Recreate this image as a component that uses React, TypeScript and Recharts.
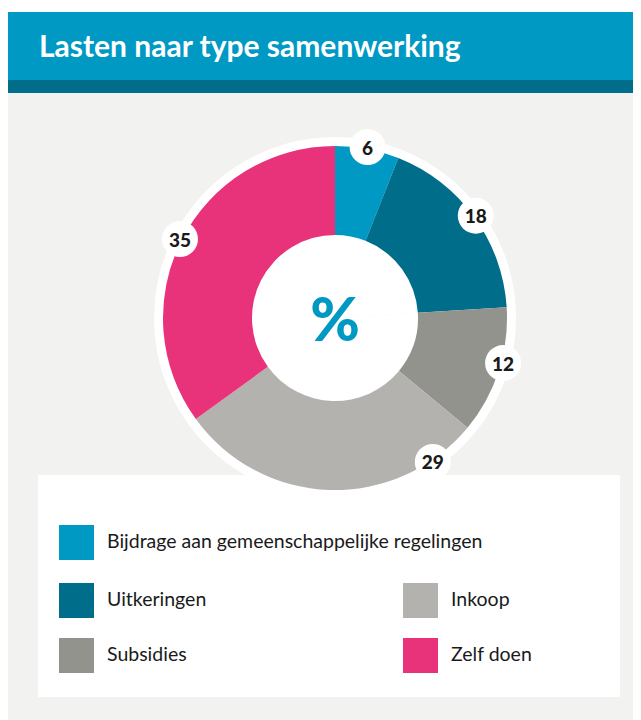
import { PieChart, Pie, Cell } from 'recharts';

const CATEGORIES = ['Bijdrage aan gemeenschappelijke regelingen', 'Uitkeringen', 'Subsidies', 'Inkoop', 'Zelf doen'];
const VALUES = [6, 18, 12, 29, 35];
const COLORS = ['#0099c4', '#006d8a', '#93938d', '#b3b2ae', '#e8327a'];

// legend layout: left column then right column
const LEGEND_LEFT = [0, 1, 2];
const LEGEND_RIGHT = [3, 4];

const FONT = 'Lato, "Open Sans", sans-serif';
const RAD = Math.PI / 180;

const data = CATEGORIES.map((name, i) => ({ name, value: VALUES[i] }));

// small nudges so the bubbles sit where the original puts them
const LABEL_NUDGE: Record<string, number> = { Inkoop: 36, Subsidies: 3 };

function renderLabel(props: any) {
  const { cx, cy, midAngle, outerRadius, value, name } = props;
  const a = midAngle + (LABEL_NUDGE[name] || 0);
  const r = outerRadius + 2;
  const x = cx + r * Math.cos(-a * RAD);
  const y = cy + r * Math.sin(-a * RAD);
  return (
    <g>
      <circle cx={x} cy={y} r={18} fill="#ffffff" />
      <text
        x={x}
        y={y}
        textAnchor="middle"
        dominantBaseline="central"
        fontFamily={FONT}
        fontWeight={900}
        fontSize={19}
        fill="#1a1a1a"
      >
        {value}
      </text>
    </g>
  );
}

function LegendItem({ i, left, top }: { i: number; left: number; top: number }) {
  return (
    <div style={{ position: 'absolute', left, top, display: 'flex', alignItems: 'center' }}>
      <div style={{ width: 35, height: 35, backgroundColor: COLORS[i] }} />
      <span
        style={{
          marginLeft: 13,
          marginTop: -4,
          fontSize: 19.5,
          color: '#1a1a1a',
          fontFamily: FONT,
          whiteSpace: 'nowrap',
        }}
      >
        {CATEGORIES[i]}
      </span>
    </div>
  );
}

export default function App() {
  const rowTops = [50, 108, 163];
  return (
    <div style={{ position: 'relative', width: 633, height: 712, fontFamily: FONT }}>
      <div
        style={{
          position: 'absolute',
          left: 0,
          top: 4,
          width: 633,
          height: 68,
          backgroundColor: '#0099c4',
          color: '#ffffff',
          fontWeight: 700,
          fontSize: 30,
          lineHeight: '66px',
          paddingLeft: 31,
          boxSizing: 'border-box',
        }}
      >
        Lasten naar type samenwerking
      </div>
      <div style={{ position: 'absolute', left: 0, top: 72, width: 633, height: 13, backgroundColor: '#006d8a' }} />
      <div style={{ position: 'absolute', left: 0, top: 85, width: 633, height: 627, backgroundColor: '#f2f2f0' }} />

      <div
        style={{
          position: 'absolute',
          left: 30,
          top: 467,
          width: 582,
          height: 222,
          backgroundColor: '#ffffff',
        }}
      >
        {LEGEND_LEFT.map((i, k) => (
          <LegendItem key={i} i={i} left={21} top={rowTops[k]} />
        ))}
        {LEGEND_RIGHT.map((i, k) => (
          <LegendItem key={i} i={i} left={365} top={rowTops[k + 1]} />
        ))}
      </div>

      <div style={{ position: 'absolute', left: 0, top: 85 }}>
        <PieChart width={633} height={420} margin={{ top: 0, right: 0, bottom: 0, left: 0 }}>
          <Pie
            data={data}
            dataKey="value"
            cx={327}
            cy={225}
            innerRadius={0}
            outerRadius={181}
            startAngle={90}
            endAngle={-270}
            fill="#ffffff"
            stroke="none"
            isAnimationActive={false}
          />
          <Pie
            data={data}
            dataKey="value"
            cx={327}
            cy={225}
            innerRadius={83}
            outerRadius={172}
            startAngle={90}
            endAngle={-270}
            stroke="none"
            labelLine={false}
            label={renderLabel}
            isAnimationActive={false}
          >
            {data.map((d, i) => (
              <Cell key={d.name} fill={COLORS[i]} />
            ))}
          </Pie>
        </PieChart>
      </div>

      <div
        style={{
          position: 'absolute',
          left: 277,
          top: 270,
          width: 100,
          textAlign: 'center',
          color: '#0099c4',
          fontWeight: 900,
          fontSize: 60,
          lineHeight: '80px',
        }}
      >
        %
      </div>
    </div>
  );
}
